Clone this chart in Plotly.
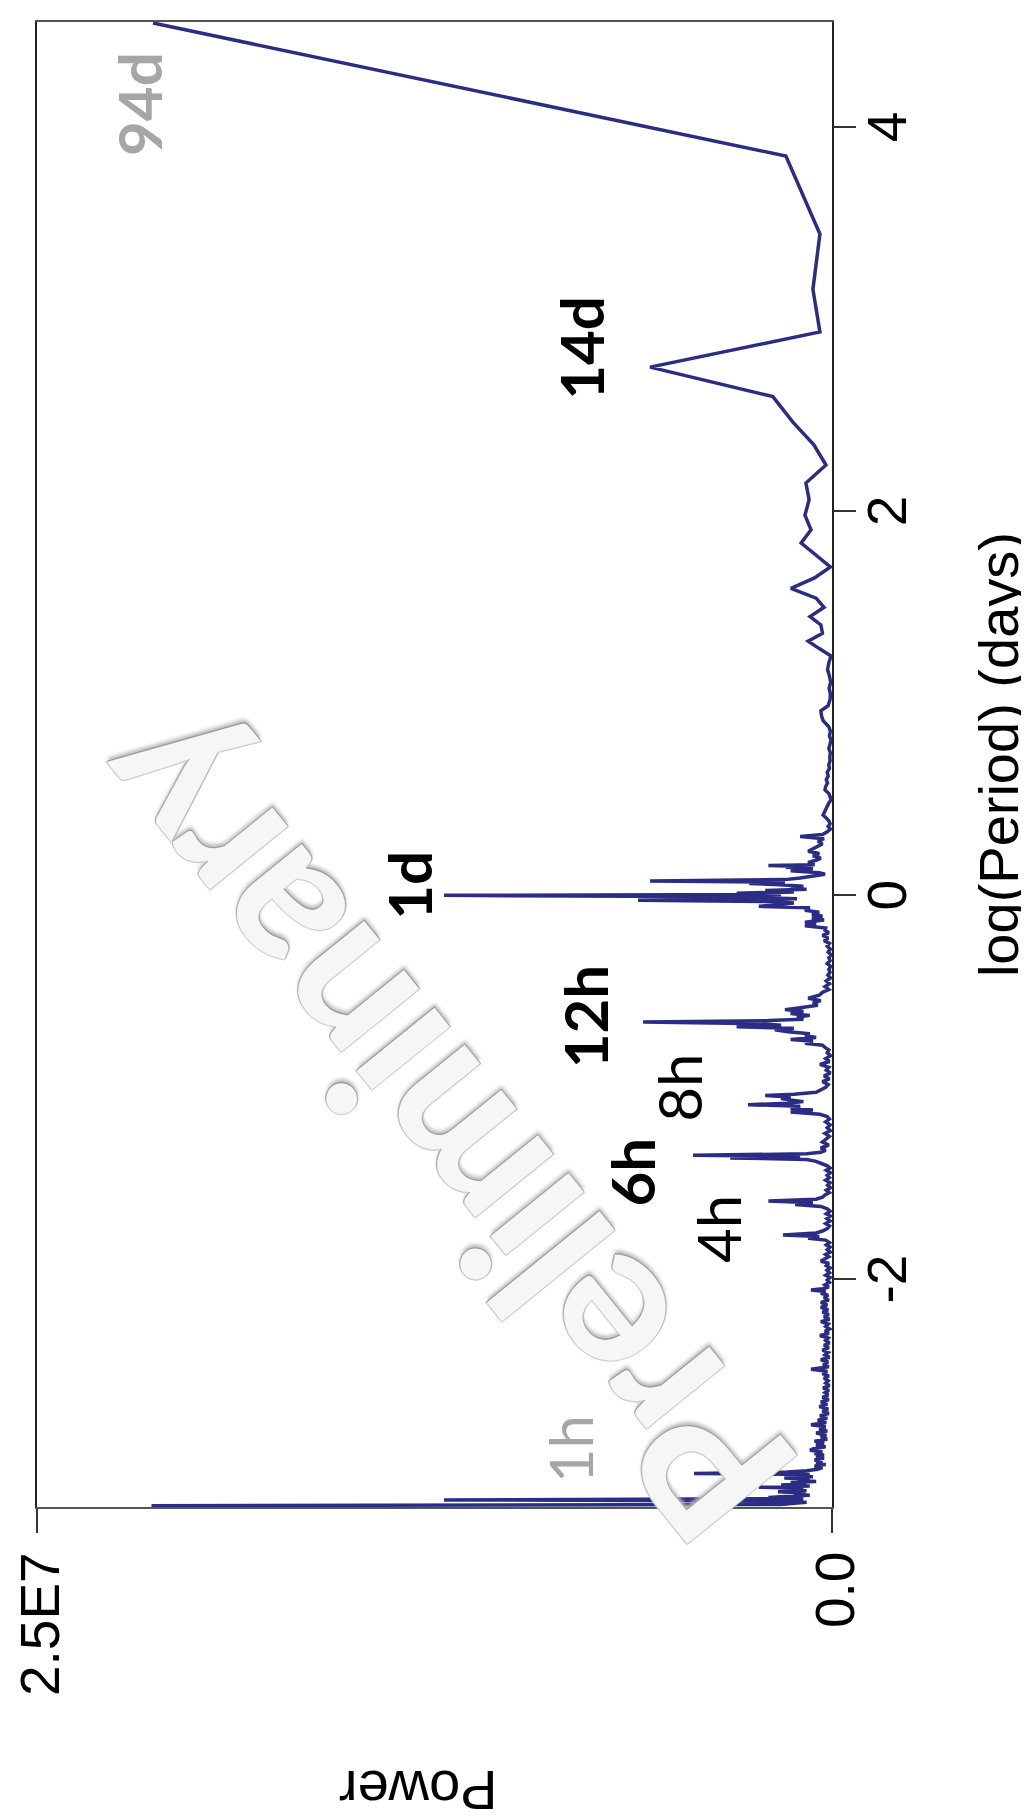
import plotly.graph_objects as go

# ---- data: (log(Period) [ln days], Power [millions]) ----
seg_long_periods = [
    (4.543, 21.35), (3.850, 1.45), (3.444, 0.38), (3.156, 0.60), (2.934, 0.38),
    (2.751, 5.72), (2.597, 1.86), (2.464, 1.23), (2.346, 0.57), (2.241, 0.19),
    (2.147, 0.82), (2.060, 0.72), (1.980, 0.85), (1.904, 0.66), (1.835, 0.97),
    (1.770, 0.50), (1.710, 0.05), (1.653, 0.55), (1.599, 1.29), (1.548, 0.50),
    (1.500, 0.25), (1.452, 0.69), (1.408, 0.35), (1.365, 0.30), (1.324, 0.75),
    (1.285, 0.40), (1.247, 0.03), (1.211, 0.10), (1.176, 0.14), (1.142, 0.08),
    (1.110, 0.04), (1.079, 0.09), (1.050, 0.05), (1.020, 0.06), (0.988, 0.12),
    (0.961, 0.35), (0.935, 0.33), (0.910, 0.28), (0.878, 0.10), (0.854, 0.05),
    (0.831, 0.08), (0.808, 0.03), (0.786, 0.06), (0.764, 0.10), (0.743, 0.05),
    (0.722, 0.07), (0.701, 0.06), (0.681, 0.10), (0.661, 0.08), (0.641, 0.15),
    (0.622, 0.12), (0.603, 0.18), (0.585, 0.14), (0.567, 0.20), (0.549, 0.22),
    (0.531, 0.10), (0.514, 0.06), (0.497, 0.03), (0.481, 0.10), (0.464, 0.15),
    (0.449, 0.20), (0.433, 0.26), (0.418, 0.28), (0.403, 0.18), (0.388, 0.10),
    (0.373, 0.06), (0.359, 0.12), (0.345, 0.05), (0.331, 0.15), (0.317, 0.30),
    (0.307, 1.00), (0.295, 0.25), (0.282, 0.44), (0.268, 0.30), (0.255, 0.45),
    (0.242, 0.60), (0.230, 0.75), (0.218, 0.40),
]
seg_diurnal = [
    (0.206, 0.60), (0.194, 0.35), (0.183, 0.50), (0.171, 0.75), (0.160, 0.55),
    (0.156, 2.00), (0.150, 0.90), (0.146, 1.45), (0.138, 0.60), (0.128, 1.30),
    (0.118, 0.40), (0.110, 0.22), (0.100, 0.60), (0.090, 1.00), (0.082, 1.48),
    (0.075, 5.72), (0.069, 1.48), (0.062, 2.60), (0.055, 1.63), (0.048, 0.90),
    (0.040, 1.30), (0.032, 0.80), (0.025, 2.10), (0.018, 1.20), (0.011, 3.00),
    (0.005, 1.60), (0.000, 12.20), (-0.006, 4.20), (-0.012, 2.40), (-0.018, 1.10),
    (-0.026, 6.10), (-0.032, 1.90), (-0.040, 1.20), (-0.048, 1.60), (-0.057, 2.30),
    (-0.064, 0.70), (-0.078, 0.85), (-0.088, 0.40), (-0.098, 0.63), (-0.108, 0.30),
    (-0.118, 0.63), (-0.128, 0.25), (-0.140, 0.85), (-0.150, 0.50), (-0.158, 0.85),
    (-0.170, 0.20), (-0.182, 0.22), (-0.195, 0.10), (-0.208, 0.30), (-0.222, 0.12),
    (-0.236, 0.25), (-0.250, 0.08),
]
seg_between_1d_12h = [
    (-0.265, 0.15), (-0.280, 0.05), (-0.295, 0.12), (-0.310, 0.03), (-0.325, 0.10),
    (-0.340, 0.06), (-0.355, 0.15), (-0.370, 0.04), (-0.385, 0.10), (-0.400, 0.06),
    (-0.415, 0.13), (-0.430, 0.05), (-0.445, 0.18), (-0.460, 0.08), (-0.475, 0.22),
    (-0.490, 0.10), (-0.505, 0.30),
]
seg_semidiurnal = [
    (-0.520, 0.40), (-0.536, 0.75), (-0.548, 0.35), (-0.560, 0.60), (-0.572, 0.45),
    (-0.585, 1.00), (-0.595, 1.48), (-0.605, 0.90), (-0.615, 1.30), (-0.625, 0.70),
    (-0.635, 1.10), (-0.645, 0.90), (-0.652, 2.00), (-0.660, 5.94), (-0.668, 2.20),
    (-0.676, 1.60), (-0.684, 3.00), (-0.692, 1.20), (-0.700, 1.80), (-0.710, 1.38),
    (-0.720, 0.70), (-0.730, 0.85), (-0.740, 0.50), (-0.750, 1.30), (-0.760, 0.60),
    (-0.770, 0.85), (-0.780, 0.30), (-0.792, 0.22), (-0.805, 0.10),
    (-0.820, 0.15), (-0.835, 0.05), (-0.850, 0.20), (-0.865, 0.08), (-0.880, 0.38),
    (-0.895, 0.10), (-0.910, 0.18), (-0.925, 0.05), (-0.940, 0.25), (-0.955, 0.08),
    (-0.970, 0.30), (-0.985, 0.12), (-1.000, 0.20), (-1.015, 0.35), (-1.025, 0.50),
]
seg_8h = [
    (-1.035, 1.20), (-1.042, 2.10), (-1.050, 1.30), (-1.058, 1.60), (-1.066, 1.30),
    (-1.074, 0.90), (-1.082, 1.40), (-1.090, 2.64), (-1.098, 1.00), (-1.108, 1.30),
    (-1.118, 0.60), (-1.128, 1.30), (-1.140, 0.38), (-1.152, 0.15),
    (-1.165, 0.08), (-1.180, 0.20), (-1.195, 0.06), (-1.210, 0.15), (-1.225, 0.05),
    (-1.240, 0.22), (-1.255, 0.08), (-1.270, 0.18), (-1.285, 0.30), (-1.300, 0.10),
    (-1.315, 0.35), (-1.328, 0.20),
]
seg_6h_4h = [
    (-1.338, 0.35), (-1.346, 0.80), (-1.353, 4.37), (-1.360, 1.00), (-1.367, 3.20),
    (-1.375, 0.80), (-1.384, 0.53), (-1.395, 0.35), (-1.408, 0.15),
    (-1.420, 0.06), (-1.432, 0.18), (-1.445, 0.05), (-1.458, 0.15), (-1.470, 0.08),
    (-1.483, 0.20), (-1.496, 0.06), (-1.509, 0.14), (-1.522, 0.05), (-1.535, 0.18),
    (-1.548, 0.08), (-1.560, 0.22), (-1.572, 0.30),
    (-1.582, 0.50), (-1.592, 2.00), (-1.600, 0.60), (-1.610, 1.16), (-1.620, 0.35),
    (-1.632, 0.15), (-1.645, 0.06), (-1.658, 0.18), (-1.670, 0.05), (-1.683, 0.16),
    (-1.696, 0.06), (-1.709, 0.20), (-1.722, 0.08), (-1.735, 0.15), (-1.748, 0.30),
    (-1.758, 0.50), (-1.769, 1.54), (-1.777, 0.40), (-1.785, 0.75), (-1.795, 0.20),
]
seg_3h = [
    (-1.808, 0.08), (-1.820, 0.18), (-1.832, 0.06), (-1.845, 0.15), (-1.858, 0.05),
    (-1.870, 0.20), (-1.882, 0.10), (-1.895, 0.25), (-1.905, 0.35), (-1.915, 0.10),
    (-1.928, 0.18), (-1.940, 0.06), (-1.952, 0.16), (-1.965, 0.08), (-1.978, 0.20),
    (-1.990, 0.06), (-2.003, 0.15), (-2.015, 0.08), (-2.028, 0.22), (-2.040, 0.10),
    (-2.048, 0.30), (-2.055, 0.66), (-2.063, 0.20), (-2.072, 0.35), (-2.082, 0.12),
]
seg_short = [
    (-2.095, 0.25), (-2.108, 0.10), (-2.120, 0.35), (-2.132, 0.15), (-2.145, 0.35),
    (-2.158, 0.12), (-2.170, 0.30), (-2.182, 0.10), (-2.195, 0.25), (-2.208, 0.08),
    (-2.220, 0.35), (-2.232, 0.12), (-2.245, 0.20), (-2.258, 0.08), (-2.270, 0.22),
    (-2.282, 0.10), (-2.292, 0.38), (-2.305, 0.12), (-2.318, 0.20), (-2.330, 0.08),
    (-2.343, 0.25), (-2.356, 0.10), (-2.368, 0.30), (-2.380, 0.12), (-2.393, 0.22),
    (-2.405, 0.08), (-2.418, 0.35), (-2.430, 0.12), (-2.443, 0.28), (-2.455, 0.10),
    (-2.468, 0.66), (-2.478, 0.15), (-2.490, 0.30), (-2.502, 0.10), (-2.515, 0.25),
    (-2.528, 0.12), (-2.540, 0.20), (-2.553, 0.08), (-2.565, 0.28), (-2.578, 0.10),
    (-2.590, 0.22), (-2.602, 0.12), (-2.614, 0.30), (-2.626, 0.10), (-2.638, 0.35),
    (-2.650, 0.15), (-2.662, 0.40), (-2.674, 0.12), (-2.686, 0.30), (-2.698, 0.10),
    (-2.710, 0.38), (-2.722, 0.15), (-2.733, 0.45), (-2.745, 0.18), (-2.757, 0.66),
    (-2.767, 0.20), (-2.778, 0.40), (-2.790, 0.15), (-2.800, 0.50), (-2.811, 0.18),
    (-2.822, 0.35), (-2.832, 0.15), (-2.842, 0.55), (-2.852, 0.25), (-2.862, 0.50),
    (-2.872, 0.20), (-2.882, 0.60), (-2.890, 0.69), (-2.898, 0.30), (-2.906, 0.55),
    (-2.914, 0.25), (-2.922, 0.50), (-2.930, 0.25), (-2.940, 0.55), (-2.948, 0.30),
    (-2.956, 0.50), (-2.964, 0.20), (-2.972, 0.55), (-2.980, 0.30), (-2.988, 0.45),
]
seg_hourly = [
    (-2.996, 0.80), (-3.003, 1.40), (-3.010, 4.34), (-3.016, 0.70), (-3.022, 1.20),
    (-3.028, 0.60), (-3.034, 1.50), (-3.040, 0.70), (-3.046, 1.10), (-3.052, 0.50),
    (-3.058, 1.30), (-3.064, 0.80), (-3.070, 1.60), (-3.076, 0.70), (-3.082, 2.30),
    (-3.088, 0.90), (-3.094, 1.40), (-3.100, 0.80), (-3.106, 1.70), (-3.112, 0.85),
    (-3.118, 1.20), (-3.124, 0.70), (-3.130, 1.50), (-3.136, 2.00), (-3.142, 0.90),
    (-3.148, 12.20), (-3.154, 1.30), (-3.160, 0.80), (-3.166, 1.19), (-3.172, 1.60),
    (-3.178, 21.40),
]

# peak labels: (text, power [millions], log period, bold, colour)
peak_labels = [
    ("94d", 21.8, 4.12, True, "#a6a6a6"),
    ("14d", 7.9, 2.85, True, "black"),
    ("1d", 13.3, 0.05, True, "black"),
    ("12h", 7.77, -0.63, True, "black"),
    ("8h", 4.80, -1.00, False, "black"),
    ("6h", 6.30, -1.44, True, "black"),
    ("4h", 3.60, -1.74, False, "black"),
    ("1h", 8.24, -2.885, False, "#a6a6a6"),
]

power_ticks = [0, 2.5e7]
power_ticktext = ["0.0", "2.5E7"]
logp_ticks = [-2, 0, 2, 4]
logp_ticktext = ["-2", "0", "2", "4"]

# ---- build ----
segments = [seg_long_periods, seg_diurnal, seg_between_1d_12h, seg_semidiurnal,
            seg_8h, seg_6h_4h, seg_3h, seg_short, seg_hourly]
logp = [p[0] for s in segments for p in s]
power = [p[1] * 1e6 for s in segments for p in s]

SANS = "Liberation Sans, Arial, sans-serif"
TICK_FONT = dict(family=SANS, size=55, color="black")

fig = go.Figure()
fig.add_trace(go.Scatter(
    x=power, y=logp, mode="lines",
    line=dict(color="#2b2d84", width=3.5),
    hoverinfo="skip", showlegend=False,
))

annotations = []
for text, pw, lp, bold, col in peak_labels:
    annotations.append(dict(
        x=pw * 1e6, y=lp, xref="x", yref="y", text=text, showarrow=False,
        textangle=-90, xanchor="center", yanchor="middle",
        font=dict(family="Lato, sans-serif", size=60, color=col,
                  weight="bold" if bold else "normal"),
    ))

# tick labels (rotated with the chart)
for val, txt in zip(power_ticks, power_ticktext):
    annotations.append(dict(
        x=val, y=-0.029, xref="x", yref="paper", text=txt, showarrow=False,
        textangle=-90, xanchor="center", yanchor="top", xshift=3, font=TICK_FONT,
    ))
for val, txt in zip(logp_ticks, logp_ticktext):
    annotations.append(dict(
        x=1.0692, y=val, xref="paper", yref="y", text=txt, showarrow=False,
        textangle=-90, xanchor="center", yanchor="middle", font=TICK_FONT,
    ))

# axis titles
annotations.append(dict(
    x=1.2088, y=0.507, xref="paper", yref="paper", text="log(Period) (days)",
    showarrow=False, textangle=-90, xanchor="center", yanchor="middle",
    font=dict(family=SANS, size=56, color="black"),
))
annotations.append(dict(
    x=0.479, y=-0.191, xref="paper", yref="paper", text="Power",
    showarrow=False, textangle=180, xanchor="center", yanchor="middle",
    font=dict(family=SANS, size=56, color="black"),
))

# watermark
annotations.append(dict(
    x=0.503, y=0.2539, xref="paper", yref="paper", text="Preliminary",
    showarrow=False, textangle=-129, xanchor="center", yanchor="middle",
    font=dict(family="Lato, sans-serif", size=195, color="#f6f6f6", weight="bold",
              shadow="1px 1px 0 #9c9c9c, -1px -1px 0 #cfcfcf, 1px -1px 0 #b4b4b4, "
                     "-1px 1px 0 #b4b4b4, 3px 3px 4px #bdbdbd"),
))

fig.update_layout(
    width=1029, height=1820,
    margin=dict(l=29, r=205, t=14, b=321),
    paper_bgcolor="white", plot_bgcolor="white",
    annotations=annotations,
    xaxis=dict(
        range=[2.5e7, 0], tickvals=power_ticks, showticklabels=False,
        ticks="outside", ticklen=24, tickwidth=2, tickcolor="#333",
        showline=True, linecolor="#555", linewidth=2, mirror=True,
        showgrid=False, zeroline=False,
    ),
    yaxis=dict(
        side="right", range=[-3.185, 4.548], tickvals=logp_ticks, showticklabels=False,
        ticks="outside", ticklen=22, tickwidth=2, tickcolor="#333",
        showline=True, linecolor="#222", linewidth=2, mirror=True,
        showgrid=False, zeroline=False,
    ),
)

fig.write_html("out.html")
